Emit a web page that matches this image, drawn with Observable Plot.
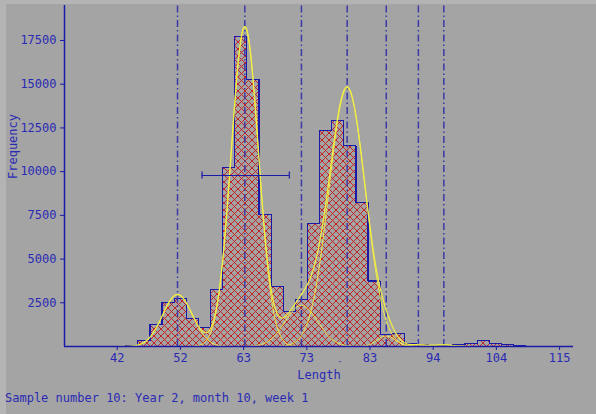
<!DOCTYPE html>
<html>
<head>
<meta charset="utf-8">
<script src="https://cdn.jsdelivr.net/npm/d3@7"></script>
<script src="https://cdn.jsdelivr.net/npm/@observablehq/plot@0.6"></script>
<style>
  html, body { margin: 0; padding: 0; background: #a4a4a4; width: 596px; height: 414px; overflow: hidden; position: relative; }
  #stripTop { position: absolute; left: 0; top: 0; width: 596px; height: 4px; background: #b4b4b4; }
  #stripLeft { position: absolute; left: 0; top: 0; width: 6px; height: 414px; background: #b4b4b4; }
  #chart { position: absolute; left: 0; top: 0; }
  #caption { position: absolute; left: 5px; top: 391px; font-family: "DejaVu Sans Mono", monospace; font-size: 12px; line-height: 14px; color: #2a2ab4; white-space: pre; }
</style>
</head>
<body>
<div id="stripTop"></div>
<div id="stripLeft"></div>
<div id="chart"></div>
<div id="caption">Sample number 10: Year 2, month 10, week 1</div>
<script>
// Histogram bins (lower edge, width 2) and frequencies
const binLower = [43.4, 45.4, 47.4, 49.4, 51.4, 53.4, 55.4, 57.4, 59.4, 61.4, 63.4, 65.4, 67.4, 69.4, 71.4, 73.4, 75.4, 77.4, 79.4, 81.4, 83.4, 85.4, 87.4, 89.4, 91.4, 93.4, 95.4, 97.4, 99.4, 101.4, 103.4, 105.4, 107.4];
const binWidth = 2;
const counts = [60, 330, 1240, 2530, 2730, 1600, 1100, 3260, 10240, 17750, 15275, 7530, 3415, 2000, 2670, 7020, 12340, 12930, 11480, 8220, 3740, 690, 730, 150, 100, 80, 60, 95, 190, 325, 190, 95, 57];

// Fitted normal components (mean, sd, peak height)
const compMeans = [51.95, 63.06, 72.4, 79.95, 86.4, 91.7, 95.9];
const compSds = [2.45, 2.25, 2.7, 3.0, 1.5, 1.6, 1.6];
const compPeaks = [2975, 18300, 2350, 14800, 600, 90, 90];

// Error bar
const errY = [9780];
const errX1 = [56.0];
const errX2 = [70.4];

// Axis ticks
const xTickValues = [42, 52.43, 62.86, 73.29, 83.71, 94.14, 104.57, 115];
const xTickLabels = ["42", "52", "63", "73", "83", "94", "104", "115"];
const yTickValues = [2500, 5000, 7500, 10000, 12500, 15000, 17500];

const bins = binLower.map((x, i) => ({x1: x, x2: x + binWidth, count: counts[i]}));

// outline path points
const outline = [];
bins.forEach((b, i) => {
  if (i === 0) outline.push({x: b.x1, y: 0});
  outline.push({x: b.x1, y: b.count});
  outline.push({x: b.x2, y: b.count});
  if (i === bins.length - 1) outline.push({x: b.x2, y: 0});
});

// curves
const xs = d3.range(36, 114.01, 0.2);
const compCurves = [];
compMeans.forEach((m, k) => {
  xs.forEach(x => compCurves.push({k, x, y: compPeaks[k] * Math.exp(-((x - m) ** 2) / (2 * compSds[k] ** 2))}));
});
const sumCurve = xs.map(x => ({x, y: d3.sum(compMeans, (m, k) => compPeaks[k] * Math.exp(-((x - m) ** 2) / (2 * compSds[k] ** 2)))}));

const blue = "#2a2ab4";
const axisBlue = "#1a1aa8";
const yellow = "#f4f040";

const err = errY.map((y, i) => ({y, x1: errX1[i], x2: errX2[i]}));

const svg = Plot.plot({
  width: 596,
  height: 390,
  marginLeft: 64,
  marginRight: 23,
  marginTop: 5,
  marginBottom: 44,
  x: {domain: [33.3, 117.3]},
  y: {domain: [0, 19500]},
  style: {background: "transparent", fontFamily: "DejaVu Sans Mono, monospace", fontSize: "12px", color: blue},
  marks: [
    Plot.rect(bins, {x1: "x1", x2: "x2", y1: 0, y2: "count", fill: "url(#xhatch)", shapeRendering: "crispEdges"}),
    Plot.line(outline, {x: "x", y: "y", stroke: axisBlue, strokeWidth: 1.2, shapeRendering: "crispEdges"}),
    Plot.ruleX(compMeans, {y1: 0, y2: 19500, stroke: "#3a3aa8", strokeWidth: 1.5, strokeDasharray: "7,3,1.5,3"}),
    Plot.line(compCurves, {x: "x", y: "y", z: "k", stroke: yellow, strokeWidth: 1, strokeOpacity: 0.9}),
    Plot.line(sumCurve, {x: "x", y: "y", stroke: yellow, strokeWidth: 1.2}),
    Plot.ruleY(err, {y: "y", x1: "x1", x2: "x2", stroke: axisBlue, strokeWidth: 1.2}),
    Plot.ruleX(err, {x: "x1", y1: d => d.y - 200, y2: d => d.y + 200, stroke: axisBlue, strokeWidth: 1.2}),
    Plot.ruleX(err, {x: "x2", y1: d => d.y - 200, y2: d => d.y + 200, stroke: axisBlue, strokeWidth: 1.2}),
    Plot.axisX({ticks: xTickValues, tickFormat: (d, i) => xTickLabels[i], tickSize: 4, tickPadding: 3, label: null, stroke: axisBlue}),
    Plot.axisY({ticks: yTickValues, tickFormat: d => String(d), tickSize: 4, tickPadding: 4, label: null, stroke: axisBlue}),
    Plot.ruleY([0], {stroke: axisBlue, strokeWidth: 1.5}),
    Plot.ruleX([33.3], {stroke: axisBlue, strokeWidth: 1.5}),
    Plot.text(["Length"], {frameAnchor: "bottom", dy: 32, text: d => d, fill: blue}),
    Plot.text(["-"], {frameAnchor: "bottom-left", dx: 273, dy: 17, text: d => d, fill: blue, fontSize: 8}),
    Plot.text(["Frequency"], {frameAnchor: "left", dx: -51, dy: 3, rotate: -90, text: d => d, fill: blue})
  ]
});

const defs = d3.select(svg).insert("defs", ":first-child");
const pat = defs.append("pattern").attr("id", "xhatch").attr("patternUnits", "userSpaceOnUse").attr("width", 7).attr("height", 7);
pat.append("path").attr("d", "M0,0L7,7M7,0L0,7").attr("stroke", "#c02424").attr("stroke-width", 1).attr("fill", "none");

document.getElementById("chart").appendChild(svg);
</script>
</body>
</html>
